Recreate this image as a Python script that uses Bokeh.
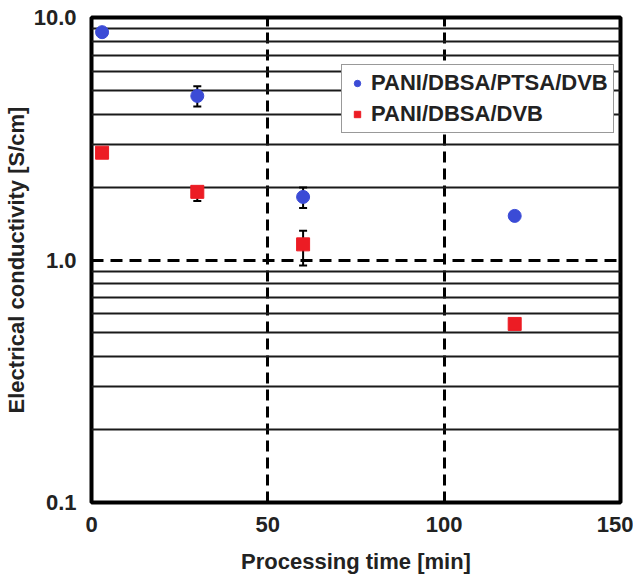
from bokeh.plotting import figure
from bokeh.models import Range1d, FixedTicker, CustomJSTickFormatter, Whisker, ColumnDataSource, TeeHead
from bokeh.embed import file_html
from bokeh.resources import INLINE

# ---- data ----
time_min = [3, 30, 60, 120]
ptsa_values = [8.7, 4.75, 1.82, 1.52]
ptsa_upper = [8.9, 5.2, 1.99, 1.55]
ptsa_lower = [8.5, 4.3, 1.64, 1.49]
dvb_values = [2.77, 1.91, 1.16, 0.545]
dvb_upper = [2.82, 2.0, 1.32, 0.555]
dvb_lower = [2.72, 1.75, 0.95, 0.535]

series_names = ["PANI/DBSA/PTSA/DVB", "PANI/DBSA/DVB"]
x_ticks = [0, 50, 100, 150]
y_ticks = [0.1, 1.0, 10.0]
y_minor = [0.2, 0.3, 0.4, 0.5, 0.6, 0.7, 0.8, 0.9, 2, 3, 4, 5, 6, 7, 8, 9]

FONT = "Liberation Sans"
TXT = "#222222"

p = figure(width=633, height=576, y_axis_type="log",
           x_range=Range1d(0, 150), y_range=Range1d(0.1, 10),
           output_backend="svg", toolbar_location=None,
           min_border_left=80, min_border_right=13, min_border_top=17, min_border_bottom=74)
p.background_fill_color = "white"
p.border_fill_color = "white"
p.outline_line_color = "black"
p.outline_line_width = 4

xt = FixedTicker(ticks=x_ticks, minor_ticks=[])
yt = FixedTicker(ticks=y_ticks, minor_ticks=y_minor)
p.xaxis.ticker = xt
p.yaxis.ticker = yt
p.xgrid.ticker = xt
p.ygrid.ticker = yt
p.yaxis.formatter = CustomJSTickFormatter(code="return tick.toFixed(1);")

p.xgrid.grid_line_color = "black"
p.xgrid.grid_line_width = 3
p.xgrid.grid_line_dash = "11 6"
p.ygrid.grid_line_color = "black"
p.ygrid.grid_line_width = 3
p.ygrid.grid_line_dash = "12 7"
p.ygrid.minor_grid_line_color = "#1a1a1a"
p.ygrid.minor_grid_line_width = 2

for ax in (p.xaxis[0], p.yaxis[0]):
    ax.axis_line_color = None
    ax.major_tick_line_color = None
    ax.minor_tick_line_color = None
    ax.major_label_text_font = FONT
    ax.major_label_text_font_style = "bold"
    ax.major_label_text_font_size = "22px"
    ax.major_label_text_color = TXT
    ax.axis_label_text_font = FONT
    ax.axis_label_text_font_style = "bold"
    ax.axis_label_text_font_size = "22px"
    ax.axis_label_text_color = TXT

p.xaxis.axis_label = "Processing time [min]"
p.yaxis.axis_label = "Electrical conductivity [S/cm]"
p.xaxis.major_label_standoff = 8
p.xaxis.axis_label_standoff = 14
p.yaxis.major_label_standoff = 9
p.yaxis.axis_label_standoff = 2

src_a = ColumnDataSource(dict(x=time_min, y=ptsa_values, up=ptsa_upper, lo=ptsa_lower))
src_b = ColumnDataSource(dict(x=time_min, y=dvb_values, up=dvb_upper, lo=dvb_lower))

for src in (src_a, src_b):
    w = Whisker(base="x", upper="up", lower="lo", source=src,
                line_color="black", line_width=2,
                upper_head=TeeHead(size=8, line_color="black", line_width=2),
                lower_head=TeeHead(size=8, line_color="black", line_width=2))
    p.add_layout(w)

p.scatter("x", "y", source=src_a, marker="circle", size=13,
          fill_color="#3b4bd6", line_color="#3b4bd6", legend_label=series_names[0])
p.scatter("x", "y", source=src_b, marker="square", size=13,
          fill_color="#ec1c24", line_color="#ec1c24", legend_label=series_names[1])

lg = p.legend[0]
lg.location = (250, 369)
lg.margin = 0
lg.padding = 5
lg.spacing = 5
lg.label_height = 26
lg.glyph_height = 16
lg.glyph_width = 20
lg.label_standoff = 4
lg.label_text_font = FONT
lg.label_text_font_style = "bold"
lg.label_text_font_size = "22px"
lg.label_text_color = TXT
lg.border_line_color = "#333333"
lg.border_line_width = 1.5
lg.background_fill_color = "white"
lg.background_fill_alpha = 1.0

open("out.html", "w").write(file_html(p, INLINE))
